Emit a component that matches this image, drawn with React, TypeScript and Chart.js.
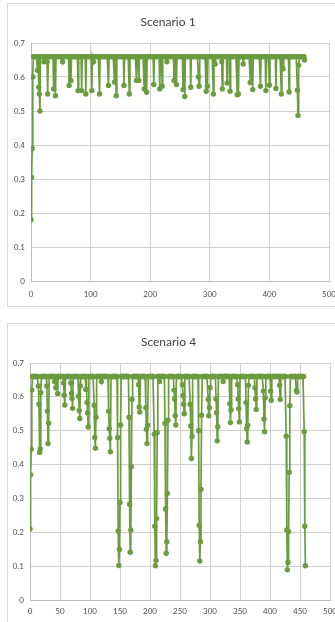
import React, { useEffect, useRef } from "react";
import { Chart, registerables } from "chart.js";

Chart.register(...registerables);

// ---------- data ----------
const TITLE_1 = "Scenario 1";
const TITLE_4 = "Scenario 4";
const Y_MIN = 0;
const Y_MAX = 0.7;
const Y_STEP = 0.1;
const X_MIN = 0;
const X_MAX = 500;
const X_STEP_1 = 100;
const X_STEP_4 = 50;

// value per step index (0..459)
const scenario1: number[] = [
  0.18, 0.305, 0.39, 0.6, 0.66, 0.66, 0.66, 0.66, 0.66, 0.66,
  0.66, 0.62, 0.66, 0.57, 0.55, 0.5, 0.66, 0.66, 0.66, 0.66,
  0.66, 0.66, 0.645, 0.66, 0.66, 0.66, 0.66, 0.645, 0.55, 0.66,
  0.66, 0.66, 0.66, 0.66, 0.66, 0.66, 0.66, 0.66, 0.565, 0.66,
  0.66, 0.545, 0.66, 0.66, 0.66, 0.66, 0.66, 0.66, 0.66, 0.66,
  0.66, 0.66, 0.66, 0.645, 0.66, 0.66, 0.66, 0.66, 0.66, 0.66,
  0.66, 0.66, 0.66, 0.66, 0.575, 0.66, 0.66, 0.59, 0.66, 0.66,
  0.66, 0.66, 0.66, 0.66, 0.66, 0.66, 0.66, 0.66, 0.66, 0.56,
  0.66, 0.66, 0.66, 0.66, 0.66, 0.56, 0.66, 0.66, 0.66, 0.66,
  0.66, 0.66, 0.55, 0.66, 0.66, 0.66, 0.66, 0.66, 0.66, 0.66,
  0.66, 0.66, 0.56, 0.66, 0.66, 0.645, 0.66, 0.66, 0.66, 0.66,
  0.66, 0.66, 0.66, 0.66, 0.66, 0.55, 0.66, 0.66, 0.66, 0.66,
  0.66, 0.66, 0.66, 0.66, 0.66, 0.66, 0.66, 0.66, 0.66, 0.66,
  0.575, 0.66, 0.66, 0.66, 0.66, 0.66, 0.66, 0.66, 0.66, 0.66,
  0.585, 0.66, 0.66, 0.545, 0.66, 0.66, 0.66, 0.66, 0.66, 0.66,
  0.66, 0.66, 0.66, 0.66, 0.66, 0.66, 0.575, 0.66, 0.66, 0.66,
  0.66, 0.66, 0.66, 0.66, 0.66, 0.55, 0.66, 0.66, 0.66, 0.66,
  0.66, 0.66, 0.66, 0.66, 0.66, 0.66, 0.66, 0.59, 0.66, 0.66,
  0.66, 0.59, 0.66, 0.66, 0.66, 0.66, 0.66, 0.66, 0.66, 0.66,
  0.565, 0.66, 0.66, 0.66, 0.555, 0.66, 0.66, 0.66, 0.66, 0.66,
  0.66, 0.66, 0.66, 0.66, 0.66, 0.66, 0.578, 0.66, 0.66, 0.66,
  0.66, 0.66, 0.66, 0.66, 0.66, 0.66, 0.565, 0.66, 0.66, 0.66,
  0.573, 0.66, 0.66, 0.66, 0.66, 0.66, 0.66, 0.66, 0.645, 0.66,
  0.66, 0.66, 0.66, 0.66, 0.66, 0.66, 0.66, 0.66, 0.66, 0.66,
  0.59, 0.66, 0.66, 0.66, 0.578, 0.66, 0.66, 0.66, 0.66, 0.66,
  0.66, 0.66, 0.66, 0.66, 0.66, 0.563, 0.66, 0.66, 0.543, 0.66,
  0.66, 0.66, 0.66, 0.66, 0.66, 0.66, 0.66, 0.66, 0.57, 0.66,
  0.66, 0.66, 0.66, 0.66, 0.66, 0.66, 0.66, 0.66, 0.66, 0.66,
  0.66, 0.6, 0.573, 0.66, 0.66, 0.66, 0.66, 0.66, 0.66, 0.66,
  0.66, 0.66, 0.66, 0.66, 0.558, 0.66, 0.573, 0.66, 0.66, 0.66,
  0.66, 0.66, 0.66, 0.66, 0.66, 0.66, 0.55, 0.66, 0.66, 0.638,
  0.66, 0.66, 0.66, 0.66, 0.66, 0.66, 0.66, 0.66, 0.66, 0.66,
  0.645, 0.565, 0.66, 0.66, 0.66, 0.66, 0.66, 0.66, 0.66, 0.582,
  0.66, 0.66, 0.66, 0.66, 0.558, 0.66, 0.66, 0.66, 0.66, 0.66,
  0.66, 0.66, 0.66, 0.66, 0.66, 0.66, 0.548, 0.66, 0.55, 0.66,
  0.66, 0.66, 0.66, 0.66, 0.66, 0.66, 0.638, 0.66, 0.66, 0.66,
  0.66, 0.66, 0.66, 0.66, 0.66, 0.66, 0.66, 0.66, 0.584, 0.66,
  0.66, 0.66, 0.563, 0.66, 0.66, 0.66, 0.66, 0.66, 0.66, 0.66,
  0.66, 0.66, 0.66, 0.66, 0.66, 0.573, 0.66, 0.66, 0.66, 0.66,
  0.66, 0.66, 0.66, 0.66, 0.56, 0.66, 0.66, 0.66, 0.66, 0.66,
  0.576, 0.66, 0.66, 0.66, 0.66, 0.66, 0.66, 0.66, 0.66, 0.66,
  0.66, 0.566, 0.66, 0.66, 0.66, 0.66, 0.66, 0.66, 0.66, 0.66,
  0.55, 0.66, 0.66, 0.624, 0.66, 0.66, 0.66, 0.66, 0.66, 0.66,
  0.66, 0.66, 0.66, 0.556, 0.66, 0.66, 0.66, 0.66, 0.66, 0.66,
  0.66, 0.66, 0.66, 0.66, 0.66, 0.66, 0.66, 0.561, 0.487, 0.635,
  0.66, 0.66, 0.66, 0.66, 0.66, 0.66, 0.66, 0.66, 0.66, 0.65,
];

const scenario4: number[] = [
  0.21, 0.37, 0.445, 0.62, 0.66, 0.66, 0.66, 0.66, 0.66, 0.66,
  0.66, 0.66, 0.66, 0.66, 0.632, 0.578, 0.436, 0.446, 0.612, 0.66,
  0.66, 0.66, 0.66, 0.66, 0.66, 0.66, 0.66, 0.66, 0.632, 0.558,
  0.462, 0.522, 0.66, 0.66, 0.66, 0.66, 0.66, 0.66, 0.66, 0.66,
  0.66, 0.645, 0.66, 0.627, 0.66, 0.66, 0.61, 0.66, 0.66, 0.66,
  0.66, 0.66, 0.66, 0.66, 0.66, 0.66, 0.641, 0.605, 0.576, 0.66,
  0.66, 0.66, 0.66, 0.66, 0.66, 0.66, 0.66, 0.66, 0.641, 0.61,
  0.595, 0.566, 0.66, 0.66, 0.66, 0.66, 0.66, 0.66, 0.66, 0.66,
  0.66, 0.602, 0.56, 0.536, 0.632, 0.66, 0.66, 0.66, 0.66, 0.66,
  0.66, 0.66, 0.66, 0.622, 0.66, 0.583, 0.553, 0.511, 0.66, 0.66,
  0.66, 0.66, 0.66, 0.66, 0.66, 0.66, 0.66, 0.575, 0.48, 0.448,
  0.54, 0.66, 0.66, 0.66, 0.66, 0.66, 0.66, 0.66, 0.66, 0.645,
  0.66, 0.66, 0.66, 0.66, 0.66, 0.66, 0.66, 0.66, 0.66, 0.66,
  0.66, 0.558, 0.506, 0.478, 0.438, 0.66, 0.66, 0.66, 0.66, 0.66,
  0.66, 0.66, 0.66, 0.66, 0.66, 0.66, 0.48, 0.204, 0.102, 0.149,
  0.288, 0.517, 0.66, 0.66, 0.66, 0.66, 0.66, 0.66, 0.66, 0.66,
  0.66, 0.66, 0.66, 0.66, 0.66, 0.54, 0.283, 0.141, 0.207, 0.394,
  0.592, 0.66, 0.66, 0.66, 0.66, 0.66, 0.66, 0.66, 0.66, 0.66,
  0.66, 0.636, 0.57, 0.555, 0.66, 0.66, 0.66, 0.66, 0.66, 0.66,
  0.66, 0.66, 0.66, 0.568, 0.504, 0.462, 0.516, 0.66, 0.66, 0.66,
  0.66, 0.66, 0.66, 0.66, 0.66, 0.66, 0.66, 0.49, 0.218, 0.101,
  0.117, 0.241, 0.495, 0.66, 0.66, 0.66, 0.645, 0.66, 0.66, 0.66,
  0.66, 0.66, 0.66, 0.66, 0.66, 0.522, 0.269, 0.138, 0.172, 0.315,
  0.531, 0.66, 0.66, 0.66, 0.66, 0.66, 0.66, 0.66, 0.66, 0.66,
  0.62, 0.594, 0.544, 0.517, 0.66, 0.66, 0.66, 0.66, 0.66, 0.66,
  0.66, 0.66, 0.66, 0.66, 0.636, 0.604, 0.578, 0.55, 0.66, 0.66,
  0.66, 0.66, 0.66, 0.66, 0.66, 0.66, 0.66, 0.578, 0.514, 0.418,
  0.483, 0.66, 0.66, 0.66, 0.66, 0.66, 0.66, 0.66, 0.66, 0.66,
  0.66, 0.5, 0.221, 0.115, 0.172, 0.327, 0.546, 0.66, 0.66, 0.66,
  0.66, 0.66, 0.66, 0.66, 0.66, 0.66, 0.66, 0.592, 0.544, 0.568,
  0.627, 0.66, 0.66, 0.66, 0.66, 0.66, 0.66, 0.66, 0.66, 0.66,
  0.594, 0.553, 0.47, 0.512, 0.66, 0.66, 0.66, 0.66, 0.66, 0.66,
  0.66, 0.66, 0.645, 0.66, 0.66, 0.66, 0.66, 0.66, 0.66, 0.66,
  0.66, 0.66, 0.66, 0.58, 0.524, 0.561, 0.66, 0.66, 0.66, 0.66,
  0.66, 0.66, 0.66, 0.66, 0.66, 0.66, 0.636, 0.594, 0.565, 0.526,
  0.66, 0.66, 0.66, 0.66, 0.66, 0.66, 0.66, 0.66, 0.66, 0.66,
  0.583, 0.506, 0.467, 0.516, 0.634, 0.66, 0.66, 0.66, 0.66, 0.66,
  0.66, 0.66, 0.66, 0.66, 0.66, 0.627, 0.594, 0.563, 0.66, 0.66,
  0.66, 0.66, 0.66, 0.66, 0.66, 0.66, 0.66, 0.66, 0.66, 0.617,
  0.534, 0.497, 0.597, 0.66, 0.66, 0.66, 0.66, 0.66, 0.66, 0.66,
  0.66, 0.617, 0.59, 0.66, 0.66, 0.66, 0.66, 0.66, 0.66, 0.66,
  0.66, 0.66, 0.66, 0.66, 0.66, 0.66, 0.634, 0.592, 0.66, 0.66,
  0.66, 0.66, 0.66, 0.66, 0.66, 0.66, 0.66, 0.484, 0.207, 0.089,
  0.111, 0.202, 0.377, 0.574, 0.66, 0.66, 0.66, 0.66, 0.66, 0.66,
  0.66, 0.66, 0.66, 0.66, 0.62, 0.614, 0.66, 0.66, 0.66, 0.66,
  0.66, 0.66, 0.66, 0.66, 0.66, 0.66, 0.66, 0.497, 0.218, 0.101,
];

// ---------- styles ----------
const GREEN = "#6b9c3f";
const GRID = "#cfcfcf";
const AXIS = "#bcbcbc";
const TEXT = "#4d4d4d";
const FONT = "Lato";

type Layout = {
  top: number;
  canvasH: number;
  boxH: number;
  yAxisW: number;
  xAxisH: number;
  xTickPad: number;
  rightPad: number;
};

const CANVAS_W = 340;

function ScenarioChart(props: {
  title: string;
  values: number[];
  xStep: number;
  layout: Layout;
}) {
  const { title, values, xStep, layout } = props;
  const ref = useRef<HTMLCanvasElement | null>(null);

  useEffect(() => {
    if (!ref.current) return;
    const points = values.map((v, i) => ({ x: i, y: v }));
    const chart = new Chart(ref.current, {
      type: "scatter",
      data: {
        datasets: [
          {
            data: points,
            showLine: true,
            borderColor: GREEN,
            backgroundColor: GREEN,
            borderWidth: 1.7,
            pointRadius: 2.7,
            pointHoverRadius: 2.7,
            pointBorderWidth: 0,
            pointBackgroundColor: GREEN,
            tension: 0,
          } as any,
        ],
      },
      options: {
        responsive: false,
        animation: false,
        devicePixelRatio: 1,
        events: [],
        layout: {
          padding: { left: 0, right: layout.rightPad, top: 0, bottom: 0 },
        },
        plugins: {
          legend: { display: false },
          tooltip: { enabled: false },
          title: {
            display: true,
            text: title,
            color: "#404040",
            font: { family: FONT, size: 12, weight: "normal" as any },
            padding: { top: 11.8, bottom: 13.8 },
          },
        },
        scales: {
          x: {
            type: "linear",
            min: X_MIN,
            max: X_MAX,
            ticks: {
              stepSize: xStep,
              color: TEXT,
              font: { family: FONT, size: 8 },
              padding: layout.xTickPad,
              maxRotation: 0,
              autoSkip: false,
            },
            grid: { color: GRID, drawTicks: false, lineWidth: 1 },
            border: { color: AXIS, width: 1 },
            afterFit: (s: any) => {
              s.height = layout.xAxisH;
            },
          },
          y: {
            type: "linear",
            min: Y_MIN,
            max: Y_MAX,
            ticks: {
              stepSize: Y_STEP,
              color: TEXT,
              font: { family: FONT, size: 8 },
              padding: 6,
              autoSkip: false,
              callback: (v: any) =>
                Math.abs(Number(v)) < 1e-9 ? "0" : Number(v).toFixed(1),
            },
            grid: { color: GRID, drawTicks: false, lineWidth: 1 },
            border: { color: AXIS, width: 1 },
            afterFit: (s: any) => {
              s.width = layout.yAxisW;
            },
          },
        },
      },
    });
    return () => chart.destroy();
  }, [title, values, xStep, layout]);

  return (
    <div
      style={{
        position: "absolute",
        left: 7,
        top: layout.top,
        width: CANVAS_W,
        height: layout.canvasH,
      }}
    >
      <div
        style={{
          position: "absolute",
          left: 0,
          top: 0,
          width: CANVAS_W,
          height: layout.boxH,
          border: "1px solid #d9d9d9",
          boxSizing: "border-box",
          background: "#ffffff",
        }}
      />
      <canvas
        ref={ref}
        width={CANVAS_W}
        height={layout.canvasH}
        style={{
          position: "absolute",
          left: 0,
          top: 0,
          width: CANVAS_W,
          height: layout.canvasH,
        }}
      />
    </div>
  );
}

const LAYOUT_1: Layout = {
  top: 3,
  canvasH: 305,
  boxH: 304,
  yAxisW: 24,
  xAxisH: 27,
  xTickPad: 9,
  rightPad: 18,
};

const LAYOUT_4: Layout = {
  top: 323,
  canvasH: 305,
  boxH: 310,
  yAxisW: 23,
  xAxisH: 28,
  xTickPad: 7,
  rightPad: 17,
};

export default function App() {
  return (
    <div
      style={{
        position: "fixed",
        left: 0,
        top: 0,
        width: 335,
        height: 622,
        overflow: "hidden",
        background: "#ffffff",
      }}
    >
      <ScenarioChart
        title={TITLE_1}
        values={scenario1}
        xStep={X_STEP_1}
        layout={LAYOUT_1}
      />
      <ScenarioChart
        title={TITLE_4}
        values={scenario4}
        xStep={X_STEP_4}
        layout={LAYOUT_4}
      />
    </div>
  );
}
